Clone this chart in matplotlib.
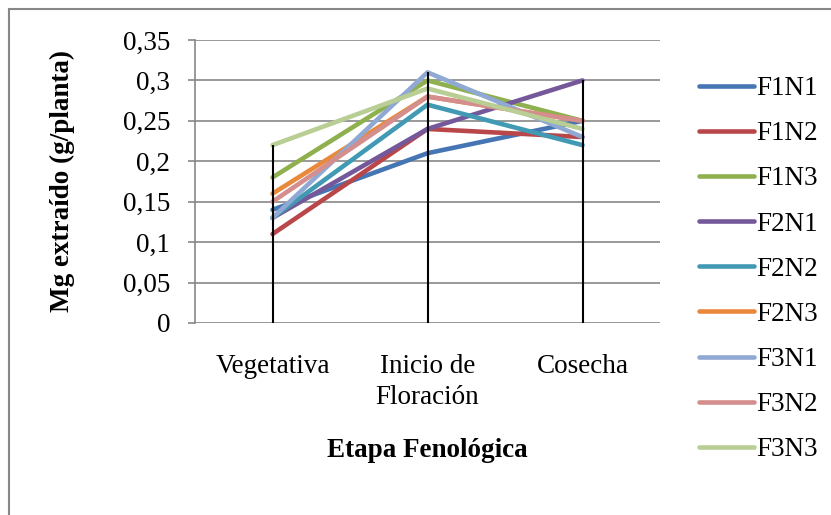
import numpy as np
import matplotlib
matplotlib.use("Agg")
import matplotlib.pyplot as plt
from matplotlib.patches import Rectangle

plt.rcParams['font.family'] = ['Liberation Serif', 'DejaVu Serif']

etapas = ['Vegetativa', 'Inicio de\nFloración', 'Cosecha']
series = ['F1N1', 'F1N2', 'F1N3', 'F2N1', 'F2N2', 'F2N3', 'F3N1', 'F3N2', 'F3N3']
F1N1 = [0.14, 0.21, 0.25]
F1N2 = [0.11, 0.24, 0.23]
F1N3 = [0.18, 0.30, 0.25]
F2N1 = [0.13, 0.24, 0.30]
F2N2 = [0.13, 0.27, 0.22]
F2N3 = [0.16, 0.28, 0.25]
F3N1 = [0.13, 0.31, 0.23]
F3N2 = [0.15, 0.28, 0.25]
F3N3 = [0.22, 0.29, 0.24]
valores = [F1N1, F1N2, F1N3, F2N1, F2N2, F2N3, F3N1, F3N2, F3N3]
yticks = [0, 0.05, 0.1, 0.15, 0.2, 0.25, 0.3, 0.35]
yticklabels = ['0', '0,05', '0,1', '0,15', '0,2', '0,25', '0,3', '0,35']

colores = ['#4675B3', '#B9474A', '#8FB04E', '#74589A', '#4299B4',
           '#E9893C', '#8FA9D4', '#D48E8D', '#B8CE94']

fs = 19.5
fig = plt.figure(figsize=(8.31, 5.15), dpi=100)
ax = fig.add_axes([195/831, 1-323/515, 465/831, 283/515])

x = np.arange(len(etapas))
for nombre, v, c in zip(series, valores, colores):
    ax.plot(x, v, color=c, lw=3.3, label=nombre, solid_capstyle='round', zorder=3)

# lineas de caida desde el maximo
maximos = np.max(np.array(valores), axis=0)
ax.vlines(x, 0, maximos, color='black', lw=1.5, zorder=4)

ax.set_xlim(-0.5, 2.5)
ax.set_ylim(0, 0.35)
ax.set_yticks(yticks)
ax.set_yticklabels(yticklabels)
ax.set_xticks(x)
ax.set_xticklabels(etapas, linespacing=1.33)
ax.yaxis.grid(True, color='#878787', lw=1.2)
ax.set_axisbelow(True)
for s in ['top', 'right', 'bottom']:
    ax.spines[s].set_visible(False)
ax.spines['left'].set_color('#878787')
ax.spines['left'].set_linewidth(1.2)
ax.tick_params(axis='y', length=5, color='#878787', width=1.2, labelsize=fs, pad=13)
ax.tick_params(axis='x', length=0, labelsize=fs, pad=22)

ax.set_ylabel('Mg extraído (g/planta)', fontsize=fs, fontweight='bold', labelpad=34)
ax.set_xlabel('Etapa Fenológica', fontsize=fs, fontweight='bold', labelpad=20)

fig.legend(loc='upper left', bbox_to_anchor=(699/831, 1-76/515), frameon=False,
           fontsize=fs, handlelength=2.03, handletextpad=0.1, labelspacing=0.745,
           borderaxespad=0, borderpad=0)

fig.patches.append(Rectangle((9/831, -0.1), 1.2, 1.1 - 9.5/515, transform=fig.transFigure,
                             fill=False, edgecolor='#878787', lw=1.5))

fig.savefig('out.png', dpi=100)
